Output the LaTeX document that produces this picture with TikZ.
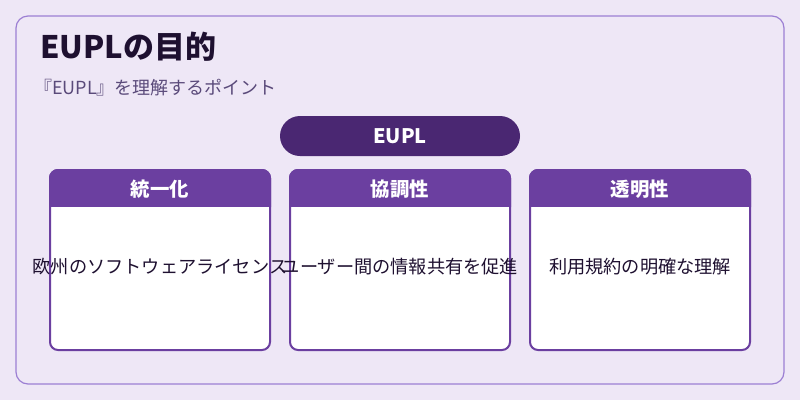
\documentclass[tikz,border=0pt]{standalone}
\usepackage{fontspec}
\setmainfont{Noto Sans CJK JP}
\definecolor{bg}{HTML}{EEE7F6}
\definecolor{frame}{HTML}{9C7FD3}
\definecolor{dark}{HTML}{4A2772}
\definecolor{head}{HTML}{6B3FA0}
\definecolor{sub}{HTML}{5A4A7A}
\definecolor{ink}{HTML}{1E1030}
\begin{document}
\begin{tikzpicture}[x=1pt,y=-1pt,
  card/.style={draw=head,line width=2pt,fill=white,rounded corners=8pt},
  headtxt/.style={text=white,font=\fontsize{19.4}{22}\selectfont\bfseries},
  bodytxt/.style={text=ink,font=\fontsize{18.2}{21}\selectfont}]
\fill[bg] (0,0) rectangle (800,400);
\useasboundingbox (0,0) rectangle (800,400);
\draw[frame,line width=1.2pt,fill=bg,rounded corners=12pt] (16,16) rectangle (784,384);
\node[anchor=west,text=ink,font=\fontsize{31}{34}\selectfont\bfseries,inner sep=0pt] (title) at (40,47) {EUPLの目的};
\node[anchor=west,text=sub,font=\fontsize{18}{21}\selectfont,inner sep=0pt] (subt) at (34,88) {『EUPL』を理解するポイント};
\node[fill=dark,rounded corners=20pt,minimum width=240pt,minimum height=40pt,text=white,font=\fontsize{20}{22}\selectfont\bfseries] (eupl) at (400,136) {EUPL};
\foreach \x/\h/\b/\n in {50/統一化/欧州のソフトウェアライセンス/a,290/協調性/ユーザー間の情報共有を促進/b,530/透明性/利用規約の明確な理解/c}{
  \draw[card] (\x,170) rectangle (\x+220,350);
  \begin{scope}
    \clip[rounded corners=8pt] (\x,170) rectangle (\x+220,250);
    \fill[head] (\x,170) rectangle (\x+220,207);
  \end{scope}
  \draw[head,line width=2pt,rounded corners=8pt] (\x,207) -- (\x,170) -- (\x+220,170) -- (\x+220,207);
  \node[headtxt] (h\n) at (\x+110,189) {\h};
  \node[bodytxt] (t\n) at (\x+110,267) {\b};
}
\end{tikzpicture}
\end{document}
